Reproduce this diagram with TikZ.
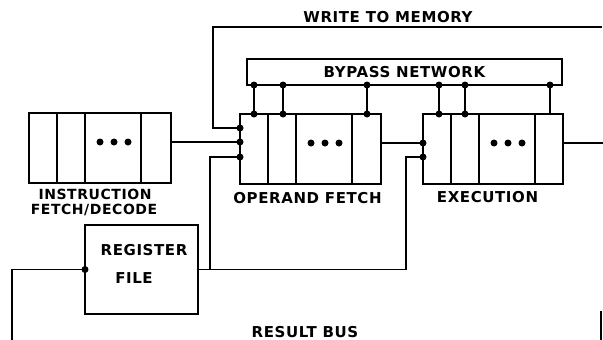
\documentclass[tikz,border=0pt]{standalone}
\usepackage{fontspec}
\newfontfamily\plotfont[LetterSpace=4]{DejaVu Sans Bold}
\usetikzlibrary{calc}
\tikzset{
  stage/.style={draw, line width=2.1pt, minimum width=141pt, minimum height=70pt, inner sep=0pt, outer sep=0pt},
  plainbox/.style={draw, line width=2.1pt, inner sep=0pt, outer sep=0pt},
  wire/.style={line width=1.9pt},
  divider/.style={line width=1.7pt},
  jdot/.style={circle, fill, inner sep=0pt, minimum size=7pt},
  lbl/.style={font=\plotfont\fontsize{15}{13}\selectfont, inner sep=0pt},
  smalllbl/.style={font=\plotfont\fontsize{14}{13}\selectfont, inner sep=0pt},
}
\begin{document}
\begin{tikzpicture}[x=1pt,y=-1pt]
\useasboundingbox (0,0) rectangle (603,340);

% pipeline stages
\node[stage, minimum width=142pt] (if) at (100,148) {};
\node[stage] (of) at (310.5,149) {};
\node[stage, minimum width=140pt] (ex) at (493,149) {};

% cell dividers and ellipsis dots
\foreach \n in {if,of,ex} {
  \foreach \d in {28,56,112} {
    \draw[divider] ($(\n.north west)+(\d,0)$) -- ($(\n.south west)+(\d,0)$);
  }
  \foreach \d in {71,85,99} {
    \fill ($(\n.west)+(\d,-6)$) circle (3.5pt);
  }
}

% bypass network and register file
\node[plainbox, minimum width=315pt, minimum height=26pt, lbl] (bp) at (404.5,72) {BYPASS NETWORK};
\node[plainbox, minimum width=113pt, minimum height=89pt] (rf) at (141.5,269.5) {};

% input points
\coordinate (ofin1) at ($(of.west)+(0,-21)$);
\coordinate (ofin2) at ($(of.west)+(0,-7)$);
\coordinate (ofin3) at ($(of.west)+(0,8)$);
\coordinate (exin1) at ($(ex.west)+(0,-6)$);
\coordinate (exin2) at ($(ex.west)+(0,8)$);
\coordinate (ifout) at ($(if.east)+(0,-6)$);
\coordinate (ofout) at ($(of.east)+(0,-6)$);
\coordinate (exout) at ($(ex.east)+(0,-6)$);
\coordinate (wtm) at (602,27);
\coordinate (outend) at (603,143);
\coordinate (busleft) at (12,340);
\coordinate (busrtop) at (601,311);
\coordinate (busrbot) at (601,340);

% connectors
\draw[wire] (wtm) -| ([xshift=-27pt]ofin1) -- (ofin1) node[jdot]{};
\draw[wire] (ifout) -- (ofin2) node[jdot]{};
\draw[wire] (rf.east) -| ([xshift=-30pt]ofin3) -- (ofin3) node[jdot]{};
\draw[wire] (ofout) -- (exin1) node[jdot]{};
\draw[wire] (rf.east) -| ([xshift=-17pt]exin2) -- (exin2) node[jdot]{};
\draw[wire] (exout) -- (outend);
\draw[wire] (rf.west) node[jdot]{} -| (busleft);
\draw[wire] (busrtop) -- (busrbot);

% bypass links
\foreach \d in {14,43,127} {
  \draw[wire] ($(of.north west)+(\d,0)$) coordinate (t) node[jdot]{} -- (t |- bp.south) node[jdot]{};
}
\foreach \d in {16,42} {
  \draw[wire] ($(ex.north west)+(\d,0)$) coordinate (t) node[jdot]{} -- (t |- bp.south) node[jdot]{};
}
\draw[wire] ($(ex.north west)+(127,0)$) coordinate (t) -- (t |- bp.south) node[jdot]{};

% labels
\node[lbl] (wtmlabel) at (388,17) {WRITE TO MEMORY};
\node[smalllbl] (iflabel1) at (95,194) {INSTRUCTION};
\node[smalllbl] (iflabel2) at (94,209.5) {FETCH/DECODE};
\node[lbl] (oflabel) at (307.5,198) {OPERAND FETCH};
\node[lbl] (exlabel) at (487.5,197) {EXECUTION};
\node[lbl] (rflabel1) at (144,250) {REGISTER};
\node[lbl] (rflabel2) at (134,278) {FILE};
\node[lbl] (rblabel) at (305,332) {RESULT BUS};
\end{tikzpicture}
\end{document}
